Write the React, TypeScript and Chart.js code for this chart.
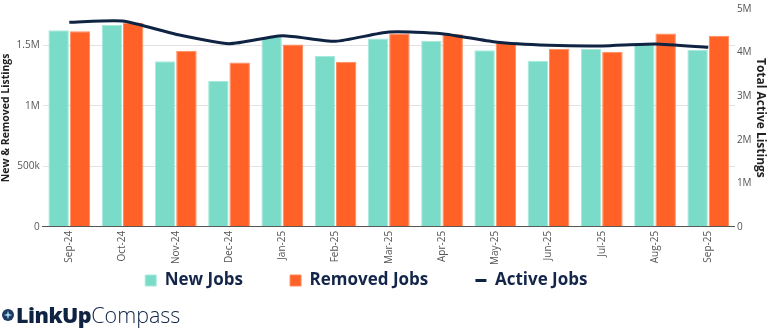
import React, { useEffect, useRef } from "react";
import { Chart, registerables } from "chart.js";

Chart.register(...registerables);

const months = ["Sep-24", "Oct-24", "Nov-24", "Dec-24", "Jan-25", "Feb-25", "Mar-25", "Apr-25", "May-25", "Jun-25", "Jul-25", "Aug-25", "Sep-25"];
const newJobs = [1624000, 1667000, 1369000, 1207000, 1568000, 1411000, 1556000, 1537000, 1460000, 1372000, 1471000, 1521000, 1463000];
const removedJobs = [1616000, 1686000, 1455000, 1358000, 1507000, 1364000, 1598000, 1592000, 1521000, 1471000, 1446000, 1598000, 1579000];
const activeJobs = [4695000, 4725000, 4420000, 4204000, 4388000, 4259000, 4472000, 4434000, 4243000, 4167000, 4151000, 4197000, 4120000];

const leftTicks = [0, 500000, 1000000, 1500000];
const rightTicks = [0, 1000000, 2000000, 3000000, 4000000, 5000000];

const NAVY = "#0f2343";
const TEAL = "#7adcc8";
const ORANGE = "#ff6126";
const FONT = "'Open Sans', sans-serif";

const legendPad: Record<string, string> = {
  "New Jobs": "          ",
  "Removed Jobs": "          ",
  "Active Jobs": "        ",
};

function fmt(v: number): string {
  if (v === 0) return "0";
  if (v >= 1000000) return v / 1000000 + "M";
  return v / 1000 + "k";
}

export default function App() {
  const ref = useRef<HTMLCanvasElement | null>(null);
  useEffect(() => {
    if (!ref.current) return;
    const chart = new Chart(ref.current, {
      type: "bar",
      data: {
        labels: months,
        datasets: [
          {
            label: "New Jobs",
            data: newJobs,
            yAxisID: "y",
            backgroundColor: TEAL,
            borderColor: "#a6eadc",
            borderWidth: 1,
            pointStyle: "rect",
            categoryPercentage: 0.8,
            barPercentage: 0.96,
            order: 1,
          } as any,
          {
            label: "Removed Jobs",
            data: removedJobs,
            yAxisID: "y",
            backgroundColor: ORANGE,
            borderColor: "#ff8a5e",
            borderWidth: 1,
            pointStyle: "rect",
            categoryPercentage: 0.8,
            barPercentage: 0.96,
            order: 1,
          } as any,
          {
            type: "line",
            label: "Active Jobs",
            data: activeJobs,
            yAxisID: "y2",
            borderColor: NAVY,
            backgroundColor: NAVY,
            borderWidth: 3,
            pointRadius: 0,
            pointStyle: "line",
            tension: 0.2,
            order: 0,
          } as any,
        ],
      },
      options: {
        animation: false,
        responsive: false,
        maintainAspectRatio: false,
        layout: { padding: { top: 2, bottom: 29, left: 0, right: 0 } },
        plugins: {
          legend: {
            position: "bottom",
            labels: {
              usePointStyle: true,
              boxWidth: 11,
              boxHeight: 11,
              pointStyleWidth: 11,
              padding: 3,
              color: "#14254a",
              font: { family: FONT, size: 17, weight: "bold" },
              generateLabels: (c: any) => {
                const items = Chart.defaults.plugins.legend.labels.generateLabels(c);
                items.sort((a: any, b: any) => a.datasetIndex - b.datasetIndex);
                return items.map((it: any) => {
                  it.text = it.text + (legendPad[it.text] || "");
                  return it;
                });
              },
            },
          },
          tooltip: { enabled: false },
        },
        scales: {
          x: {
            grid: { display: false, drawTicks: false, tickLength: 0 },
            border: { color: "#555", width: 1 },
            ticks: {
              color: "#555",
              font: { family: FONT, size: 10 },
              maxRotation: 90,
              minRotation: 90,
              autoSkip: false,
              padding: 4,
            },
          },
          y: {
            position: "left",
            min: 0,
            max: 1800000,
            afterBuildTicks: (s: any) => {
              s.ticks = leftTicks.map((v) => ({ value: v }));
            },
            grid: { color: "#e2e2e2", drawTicks: false },
            border: { display: false },
            ticks: {
              color: "#555",
              font: { family: FONT, size: 10 },
              padding: 3,
              callback: (v: any) => fmt(Number(v)),
            },
            title: {
              display: true,
              text: "New & Removed Listings",
              color: "#222",
              font: { family: FONT, size: 10.5, weight: "bold" },
              padding: { top: 0, bottom: 1 },
            },
          },
          y2: {
            position: "right",
            min: 0,
            max: 5000000,
            afterBuildTicks: (s: any) => {
              s.ticks = rightTicks.map((v) => ({ value: v }));
            },
            grid: { drawOnChartArea: false, drawTicks: false },
            border: { display: false },
            ticks: {
              color: "#555",
              font: { family: FONT, size: 10 },
              padding: 2,
              callback: (v: any) => fmt(Number(v)),
            },
            title: {
              display: true,
              text: "Total Active Listings",
              color: "#222",
              font: { family: FONT, size: 12, weight: "bold" },
              padding: { top: 0, bottom: 0 },
            },
          },
        },
      } as any,
    });
    return () => chart.destroy();
  }, []);

  return (
    <div style={{ position: "fixed", left: 0, top: 0, width: 768, height: 328, background: "#fff" }}>
      <canvas ref={ref} width={768} height={328} style={{ width: 768, height: 328, display: "block" }} />
      <div
        style={{
          position: "absolute",
          left: 2,
          top: 302,
          height: 26,
          display: "flex",
          alignItems: "center",
          fontFamily: FONT,
          color: NAVY,
          fontSize: 21.5,
          lineHeight: "26px",
        }}
      >
        <svg width="12" height="12" viewBox="0 0 12 12" style={{ marginRight: 2 }}>
          <circle cx="6" cy="6" r="6" fill="#1d3a5f" />
          <path d="M6 1.8 L7 5 L10.2 6 L7 7 L6 10.2 L5 7 L1.8 6 L5 5 Z" fill="#9fd6f0" />
        </svg>
        <span style={{ fontWeight: 800, letterSpacing: -0.5 }}>LinkUp</span>
        <span style={{ fontWeight: 300, letterSpacing: 0 }}>Compass</span>
      </div>
    </div>
  );
}
